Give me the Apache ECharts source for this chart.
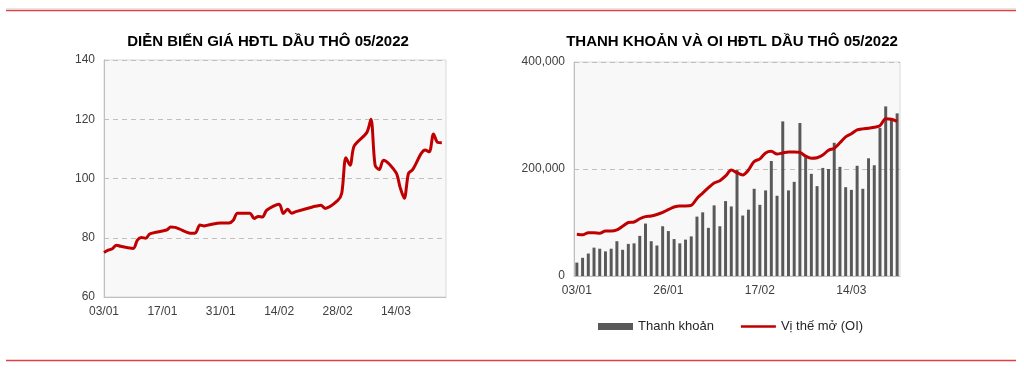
<!DOCTYPE html>
<html>
<head>
<meta charset="utf-8">
<script src="https://cdn.jsdelivr.net/npm/echarts@6/dist/echarts.min.js"></script>
<style>
html,body{margin:0;padding:0;background:#fff;}
#c{width:1024px;height:369px;}
</style>
</head>
<body>
<div id="c"></div>
<script>
// Left chart: calendar days 03/01 .. 26/03 (null = no trading)
const priceDates = ["03/01","04/01","05/01","06/01","07/01","08/01","09/01","10/01","11/01","12/01","13/01","14/01","15/01","16/01","17/01","18/01","19/01","20/01","21/01","22/01","23/01","24/01","25/01","26/01","27/01","28/01","29/01","30/01","31/01","01/02","02/02","03/02","04/02","05/02","06/02","07/02","08/02","09/02","10/02","11/02","12/02","13/02","14/02","15/02","16/02","17/02","18/02","19/02","20/02","21/02","22/02","23/02","24/02","25/02","26/02","27/02","28/02","01/03","02/03","03/03","04/03","05/03","06/03","07/03","08/03","09/03","10/03","11/03","12/03","13/03","14/03","15/03","16/03","17/03","18/03","19/03","20/03","21/03","22/03","23/03","24/03","25/03","26/03"];
const priceValues = [75.0,75.8,76.3,77.5,77.1,null,null,76.4,79.2,80.1,79.8,81.3,null,null,null,82.6,83.6,83.5,83.0,null,null,81.5,81.7,84.3,84.0,84.3,null,null,85.0,85.0,85.0,85.9,88.3,null,null,88.3,86.5,87.2,87.0,89.3,null,null,91.3,88.2,89.6,88.3,88.8,null,null,null,90.4,90.7,91.0,89.9,null,null,92.5,95.0,107.0,104.5,111.0,null,null,115.5,120.0,104.5,103.0,106.2,null,null,102.0,97.0,93.3,101.7,103.0,null,null,109.6,109.0,115.0,112.2,112.1,null];
const priceTicks = [60, 80, 100, 120, 140];

// Right chart: trading days 03/01 .. 24/03
const tradeDates = ["03/01","04/01","05/01","06/01","07/01","10/01","11/01","12/01","13/01","14/01","18/01","19/01","20/01","21/01","24/01","25/01","26/01","27/01","28/01","31/01","01/02","02/02","03/02","04/02","07/02","08/02","09/02","10/02","11/02","14/02","15/02","16/02","17/02","18/02","22/02","23/02","24/02","25/02","28/02","01/03","02/03","03/03","04/03","07/03","08/03","09/03","10/03","11/03","14/03","15/03","16/03","17/03","18/03","21/03","22/03","23/03","24/03"];
const volumeValues = [25000,34000,42000,53000,51000,46000,51000,65000,49000,60000,61000,75000,98000,65000,57000,93000,84000,69000,61000,68000,74000,111000,119000,90000,132000,93000,140000,130000,198000,113000,124000,163000,133000,160000,215000,150000,289000,160000,176000,286000,222000,191000,168000,202000,200000,249000,204000,166000,161000,206000,163000,220000,207000,277000,317000,293000,304000];
const oiValues = [78000,77000,81000,81000,80000,84000,84000,86000,93000,100000,101000,107000,111000,112000,115000,119000,124000,129000,131000,131000,132000,145000,155000,165000,174000,178000,187000,198000,193000,189000,198000,214000,219000,230000,233000,228000,230000,232000,232000,231000,224000,220000,221000,226000,235000,239000,249000,260000,266000,273000,275000,276000,278000,281000,294000,293000,289000];
const volumeTicks = [0, 200000, 400000];

const titleLeft = "DIỄN BIẾN GIÁ HĐTL DẦU THÔ 05/2022";
const titleRight = "THANH KHOẢN VÀ OI HĐTL DẦU THÔ 05/2022";
const seriesNames = ["Thanh khoản", "Vị thế mở (OI)"];

const chart = echarts.init(document.getElementById('c'));
const titleFont = '"Liberation Sans Narrow","Arial Narrow","Liberation Sans",sans-serif';
const font = '"Liberation Sans",Arial,sans-serif';
const labelColor = '#404040';

chart.setOption({
  animation: false,
  backgroundColor: '#fff',
  title: [
    {text: titleLeft, left: 263, top: 29, textAlign: 'center',
     textStyle: {fontFamily: titleFont, fontWeight: 'bold', fontSize: 15, color: '#000'}},
    {text: titleRight, left: 727, top: 29, textAlign: 'center',
     textStyle: {fontFamily: titleFont, fontWeight: 'bold', fontSize: 15, color: '#000'}}
  ],
  graphic: [
    {type: 'line', shape: {x1: 6, y1: 8.5, x2: 1016, y2: 8.5}, style: {stroke: '#e6e6e6', lineWidth: 1}},
    {type: 'line', shape: {x1: 6, y1: 10.5, x2: 1016, y2: 10.5}, style: {stroke: '#e04040', lineWidth: 1.5}},
    {type: 'line', shape: {x1: 6, y1: 360.5, x2: 1016, y2: 360.5}, style: {stroke: '#e04040', lineWidth: 1.5}}
  ],
  legend: {
    left: 593, top: 315, itemGap: 27, itemWidth: 35, itemHeight: 7,
    textStyle: {fontFamily: font, fontSize: 13, color: '#262626'},
    data: [
      {name: seriesNames[0], icon: 'rect'},
      {name: seriesNames[1], icon: 'path://M0,0H40V3H0Z'}
    ]
  },
  grid: [
    {left: 104, top: 60, width: 342, height: 237, show: true, backgroundColor: '#f8f8f8', borderColor: '#d9d9d9', borderWidth: 1},
    {left: 574, top: 62, width: 326, height: 214, show: true, backgroundColor: '#f8f8f8', borderColor: '#d9d9d9', borderWidth: 1}
  ],
  xAxis: [
    {type: 'category', gridIndex: 0, data: priceDates, boundaryGap: false,
     axisLine: {lineStyle: {color: '#bfbfbf'}}, axisTick: {show: false},
     axisLabel: {interval: 13, fontFamily: font, fontSize: 12, color: labelColor, margin: 9}},
    {type: 'category', gridIndex: 1, data: tradeDates, boundaryGap: true,
     axisLine: {lineStyle: {color: '#bfbfbf'}}, axisTick: {show: false},
     axisLabel: {interval: 15, fontFamily: font, fontSize: 12, color: labelColor, margin: 9}}
  ],
  yAxis: [
    {type: 'value', gridIndex: 0, min: priceTicks[0], max: priceTicks[priceTicks.length-1], interval: 20,
     axisLine: {show: true, lineStyle: {color: '#bfbfbf'}}, axisTick: {show: false},
     axisLabel: {fontFamily: font, fontSize: 12, color: labelColor, margin: 9},
     splitLine: {show: true, lineStyle: {color: '#bfbfbf', type: [5, 4], width: 1}}},
    {type: 'value', gridIndex: 1, min: volumeTicks[0], max: volumeTicks[volumeTicks.length-1], interval: 200000,
     axisLine: {show: true, lineStyle: {color: '#bfbfbf'}}, axisTick: {show: false},
     axisLabel: {fontFamily: font, fontSize: 12, color: labelColor, margin: 9,
       formatter: v => v.toLocaleString('en-US')},
     splitLine: {show: true, lineStyle: {color: '#bfbfbf', type: [5, 4], width: 1}}}
  ],
  series: [
    {type: 'line', xAxisIndex: 0, yAxisIndex: 0, data: priceValues, connectNulls: true,
     smooth: 0.3, symbol: 'none', lineStyle: {color: '#c00000', width: 3}, itemStyle: {color: '#c00000'}},
    {name: seriesNames[0], type: 'bar', xAxisIndex: 1, yAxisIndex: 1, data: volumeValues,
     barWidth: '52%', itemStyle: {color: '#595959'}},
    {name: seriesNames[1], type: 'line', xAxisIndex: 1, yAxisIndex: 1, data: oiValues,
     smooth: 0.3, symbol: 'none', lineStyle: {color: '#c00000', width: 3}, itemStyle: {color: '#c00000'}}
  ]
});
</script>
</body>
</html>
